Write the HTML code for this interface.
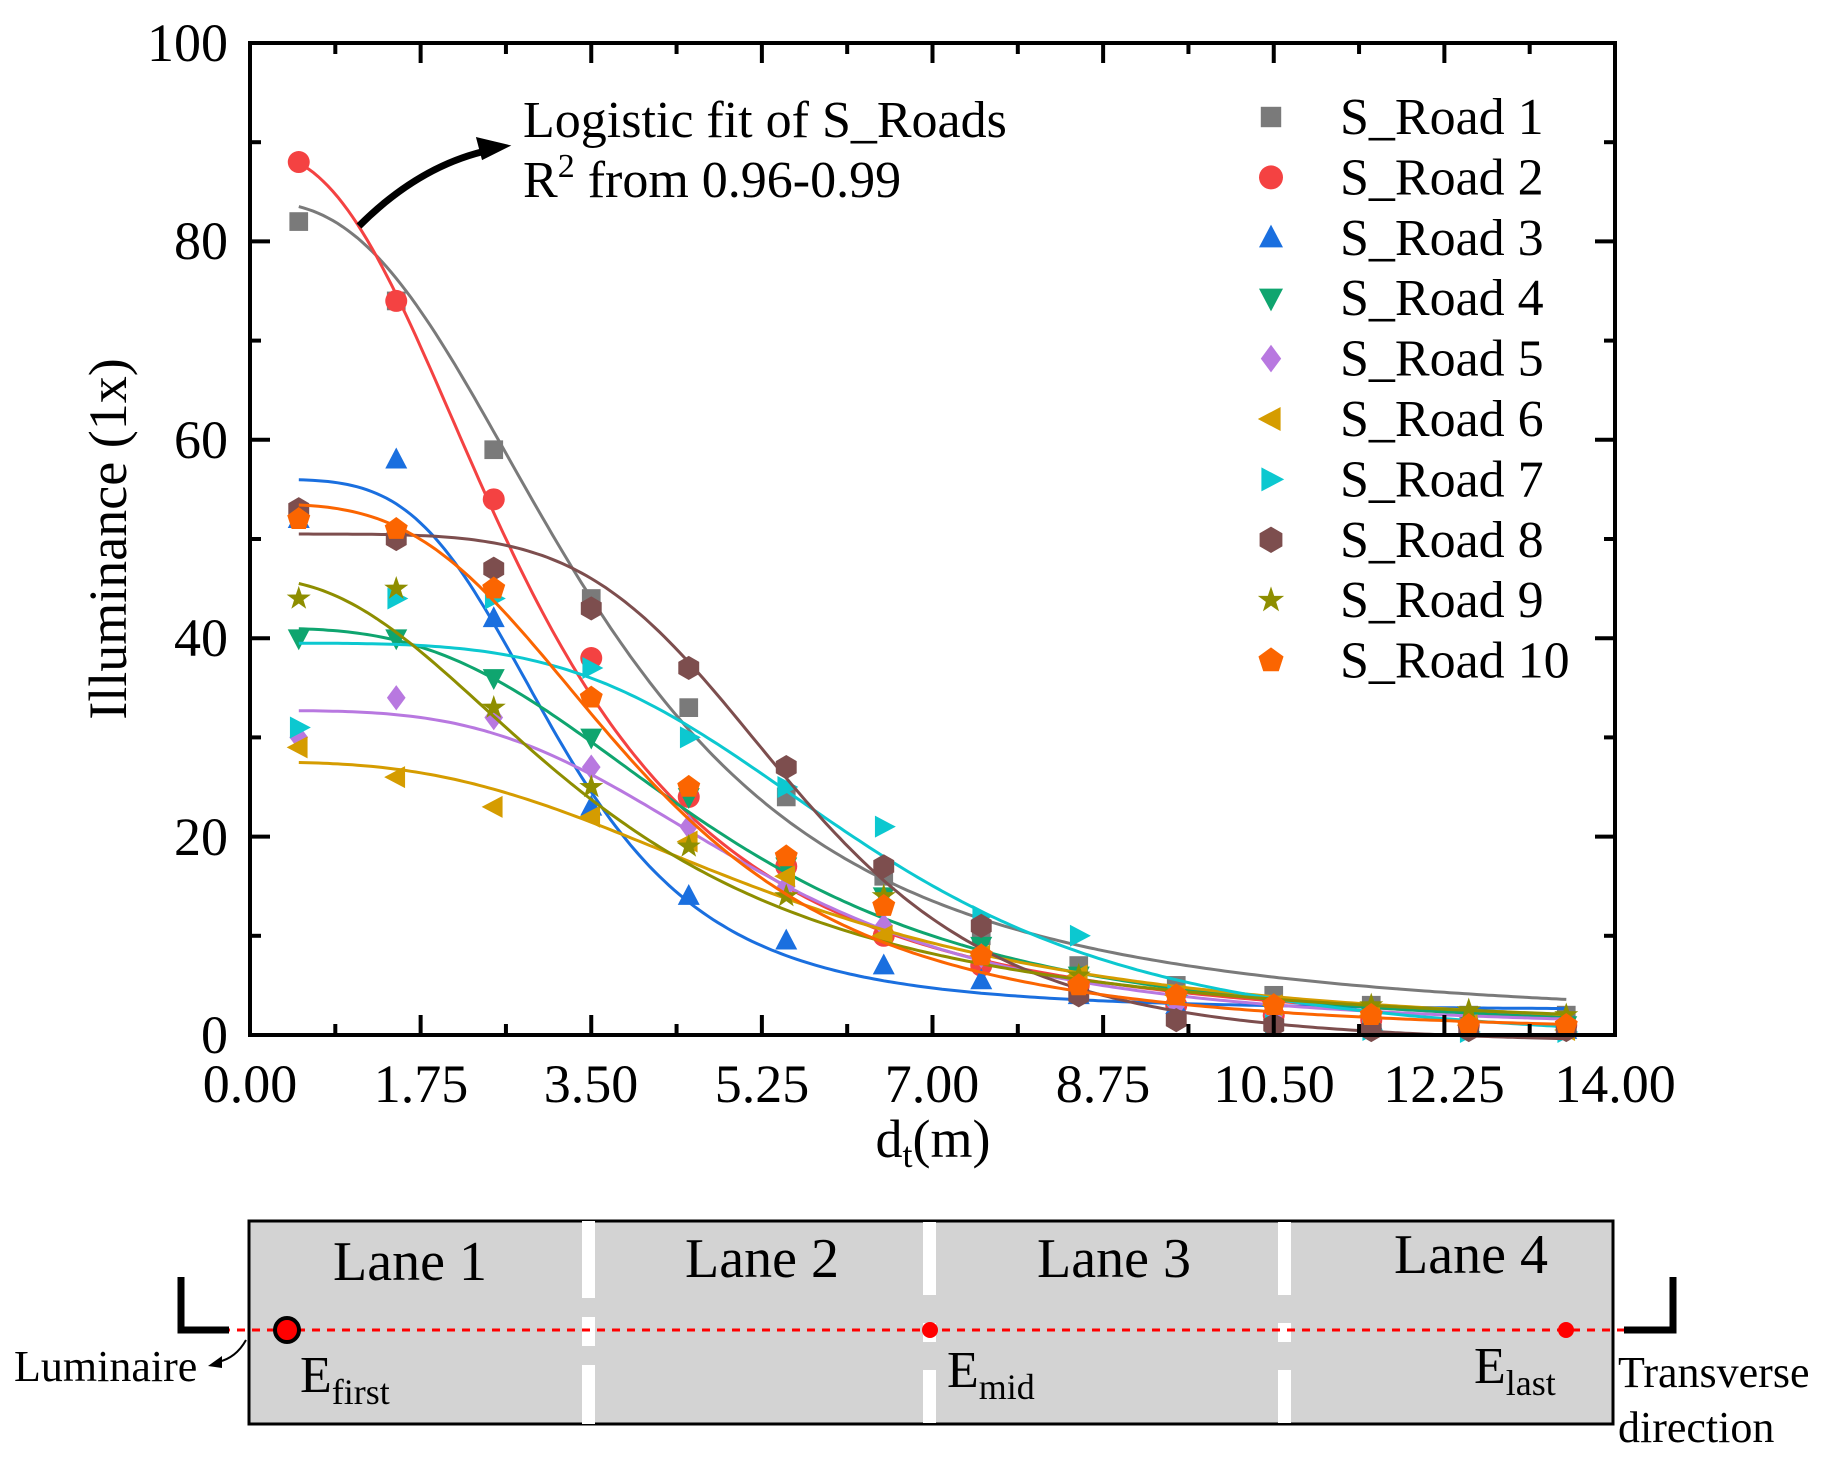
<!DOCTYPE html>
<html><head><meta charset="utf-8"><style>
html,body{margin:0;padding:0;background:#fff}
svg{display:block}
svg text{font-family:"Liberation Serif","DejaVu Serif",serif}
</style></head><body>
<svg id="s" width="1836" height="1469" viewBox="0 0 1836 1469" xmlns="http://www.w3.org/2000/svg" style="font-family:'Liberation Serif','DejaVu Serif',serif">
<g id="plot"></g>
<rect x="250" y="43" width="1365" height="992" fill="none" stroke="#000" stroke-width="4"/>
<g id="ticks" stroke="#000" stroke-width="4"></g>
<g font-size="54" text-anchor="end">
<text x="228" y="1053">0</text><text x="228" y="855">20</text><text x="228" y="656">40</text><text x="228" y="458">60</text><text x="228" y="259">80</text><text x="228" y="61">100</text>
</g>
<g font-size="54" text-anchor="middle">
<text x="250" y="1102">0.00</text><text x="421" y="1102">1.75</text><text x="591" y="1102">3.50</text><text x="762" y="1102">5.25</text><text x="932" y="1102">7.00</text><text x="1103" y="1102">8.75</text><text x="1274" y="1102">10.50</text><text x="1444" y="1102">12.25</text><text x="1615" y="1102">14.00</text>
</g>
<text x="933" y="1157" font-size="54" text-anchor="middle">d<tspan font-size="36" dy="10">t</tspan><tspan dy="-10">(m)</tspan></text>
<text transform="translate(126,539) rotate(-90)" font-size="54" text-anchor="middle">Illuminance (1x)</text>
<text x="523" y="137" font-size="52">Logistic fit of S_Roads</text>
<text x="523" y="197" font-size="52">R<tspan font-size="34" dy="-20">2</tspan><tspan dy="20"> from 0.96-0.99</tspan></text>
<path d="M359,226 Q420,165 490,150" fill="none" stroke="#000" stroke-width="7"/>
<path d="M507,146 L478,139 L483,158 Z" fill="#000" stroke="#000" stroke-width="3"/>
<g id="legend"></g>
<rect x="249" y="1221" width="1364" height="203" fill="#d3d3d3" stroke="#000" stroke-width="3"/>
<g fill="#fff">
<rect x="582" y="1221" width="13" height="77"/><rect x="582" y="1317" width="13" height="29"/><rect x="582" y="1365" width="13" height="59"/>
<rect x="923" y="1222" width="13" height="73"/><rect x="923" y="1323" width="13" height="19"/><rect x="923" y="1370" width="13" height="53"/>
<rect x="1278" y="1222" width="13" height="73"/><rect x="1278" y="1323" width="13" height="19"/><rect x="1278" y="1370" width="13" height="53"/>
</g>
<g font-size="56" text-anchor="middle">
<text x="410" y="1280">Lane 1</text><text x="762" y="1277">Lane 2</text><text x="1114" y="1277">Lane 3</text><text x="1471" y="1273">Lane 4</text>
</g>
<line x1="222" y1="1330" x2="1626" y2="1330" stroke="#f00" stroke-width="3" stroke-dasharray="8,7"/>
<circle cx="287" cy="1330" r="12" fill="#f00" stroke="#000" stroke-width="4"/>
<circle cx="930" cy="1330" r="8" fill="#f00"/>
<circle cx="1566" cy="1330" r="8" fill="#f00"/>
<path d="M181,1277 V1330 H229" fill="none" stroke="#000" stroke-width="7"/>
<path d="M1673,1277 V1330 H1624" fill="none" stroke="#000" stroke-width="7"/>
<path d="M246,1340 Q236,1358 218,1362" fill="none" stroke="#000" stroke-width="2"/>
<path d="M208,1366 L222,1356 L222,1368 Z" fill="#000"/>
<text x="14" y="1381" font-size="44">Luminaire</text>
<text x="300" y="1392" font-size="52">E<tspan font-size="36" dy="12">first</tspan></text>
<text x="947" y="1387" font-size="52">E<tspan font-size="36" dy="12">mid</tspan></text>
<text x="1474" y="1383" font-size="52">E<tspan font-size="36" dy="12">last</tspan></text>
<text x="1618" y="1387" font-size="44">Transverse</text>
<text x="1618" y="1442" font-size="44">direction</text>
</svg>
<script>
var NS="http://www.w3.org/2000/svg";
function X(v){return 250+v*97.5;}function Y(v){return 1035-v*9.92;}
function el(p,t,a){var e=document.createElementNS(NS,t);for(var k in a)e.setAttribute(k,a[k]);p.appendChild(e);return e;}
var tk=document.getElementById('ticks');
for(var i=0;i<=16;i++){var v=i*0.875,x=X(v),L=(i%2==0)?20:11;
 el(tk,'line',{x1:x,y1:1035,x2:x,y2:1035-L});el(tk,'line',{x1:x,y1:43,x2:x,y2:43+L});}
for(var i=0;i<=10;i++){var y=Y(i*10),L=(i%2==0)?20:11;
 el(tk,'line',{x1:250,y1:y,x2:250+L,y2:y});el(tk,'line',{x1:1615,y1:y,x2:1615-L,y2:y});}
var S=[
{c:'#7a7a7a',m:'sq',d:[82,74,59,44,33,24,16,10,7,5,4,3,2,2],p:[84,1,3.6,2.6]},
{c:'#f44242',m:'ci',d:[88,74,54,38,24,17,10,7,5,3,2,1.5,1,1],p:[89,0,2.9,2.5]},
{c:'#1a6fdf',m:'tu',d:[52,58,42,23,14,9.5,7,5.5,4,3,2,1.5,1,0.5],p:[56,2.5,3.2,4]},
{c:'#0fa56f',m:'td',d:[40,40,36,30,24,17,14,9,6,4,3,2,1.5,1],p:[41,0,4.8,3]},
{c:'#b878e0',m:'di',d:[30,34,32,27,21,15,11,8,5,3,2,1.5,1,1],p:[32.7,0.5,5.2,3.5]},
{c:'#d59c00',m:'tl',d:[29,26,23,22,19.5,16,10,8,6,4,3,2,1,0.5],p:[27.5,0,5.5,2.8]},
{c:'#0cc8d0',m:'tr',d:[31,44,44,37,30,25,21,12,10,4,1,0.5,0.3,0.3],p:[39.5,-1,6.3,4]},
{c:'#7d4e4e',m:'hx',d:[53,50,47,43,37,27,17,11,4,1.5,1,0.5,0.5,0.5],p:[50.5,-1,5.6,5]},
{c:'#8e8e00',m:'st',d:[44,45,33,25,19,14,14,8,6,4,3,3,2.5,2],p:[46,0,3.6,2.3]},
{c:'#fb6501',m:'pe',d:[52,51,45,34,25,18,13,8,5,4,3,2,1,1],p:[53.5,0,4.0,3.2]}];
function mk(g,t,x,y,c,s){s=s||11;
 if(t=='sq'){el(g,'rect',{x:x-s*0.85,y:y-s*0.85,width:s*1.7,height:s*1.7,fill:c});return;}
 if(t=='ci'){el(g,'circle',{cx:x,cy:y,r:s,fill:c});return;}
 function poly(a){el(g,'polygon',{points:a.map(function(p){return (x+p[0]*s)+','+(y+p[1]*s)}).join(' '),fill:c});}
 if(t=='tu')poly([[0,-1.1],[1,0.8],[-1,0.8]]);
 if(t=='td')poly([[0,1.1],[1,-0.8],[-1,-0.8]]);
 if(t=='tl')poly([[-1.1,0],[0.8,-1],[0.8,1]]);
 if(t=='tr')poly([[1.1,0],[-0.8,-1],[-0.8,1]]);
 if(t=='di')poly([[0,-1.15],[0.85,0],[0,1.15],[-0.85,0]]);
 if(t=='hx')poly([[0,-1.1],[0.95,-0.55],[0.95,0.55],[0,1.1],[-0.95,0.55],[-0.95,-0.55]]);
 if(t=='pe'){var a=[];for(var i=0;i<5;i++){var an=-Math.PI/2+i*2*Math.PI/5;a.push([1.1*Math.cos(an),1.1*Math.sin(an)]);}poly(a);}
 if(t=='st'){var a=[];for(var i=0;i<10;i++){var an=-Math.PI/2+i*Math.PI/5,r=i%2?0.45:1.15;a.push([r*Math.cos(an),r*Math.sin(an)]);}poly(a);}
}
var pl=document.getElementById('plot'),lg=document.getElementById('legend');
S.forEach(function(s,k){var p=s.p,d='';
 for(var x=0.5;x<=13.51;x+=0.05){var v=p[1]+(p[0]-p[1])/(1+Math.pow(x/p[2],p[3]));d+=(d?'L':'M')+X(x).toFixed(1)+','+Y(v).toFixed(1);}
 el(pl,'path',{d:d,fill:'none',stroke:s.c,'stroke-width':3});
 s.d.forEach(function(v,i){mk(pl,s.m,X(0.5+i),Y(v),s.c);});
 var ly=117+60.4*k;mk(lg,s.m,1271,ly,s.c,12);
 var t=el(lg,'text',{x:1340,y:ly+17,'font-size':52});t.textContent='S_Road '+(k+1);
});
</script>
</body></html>
